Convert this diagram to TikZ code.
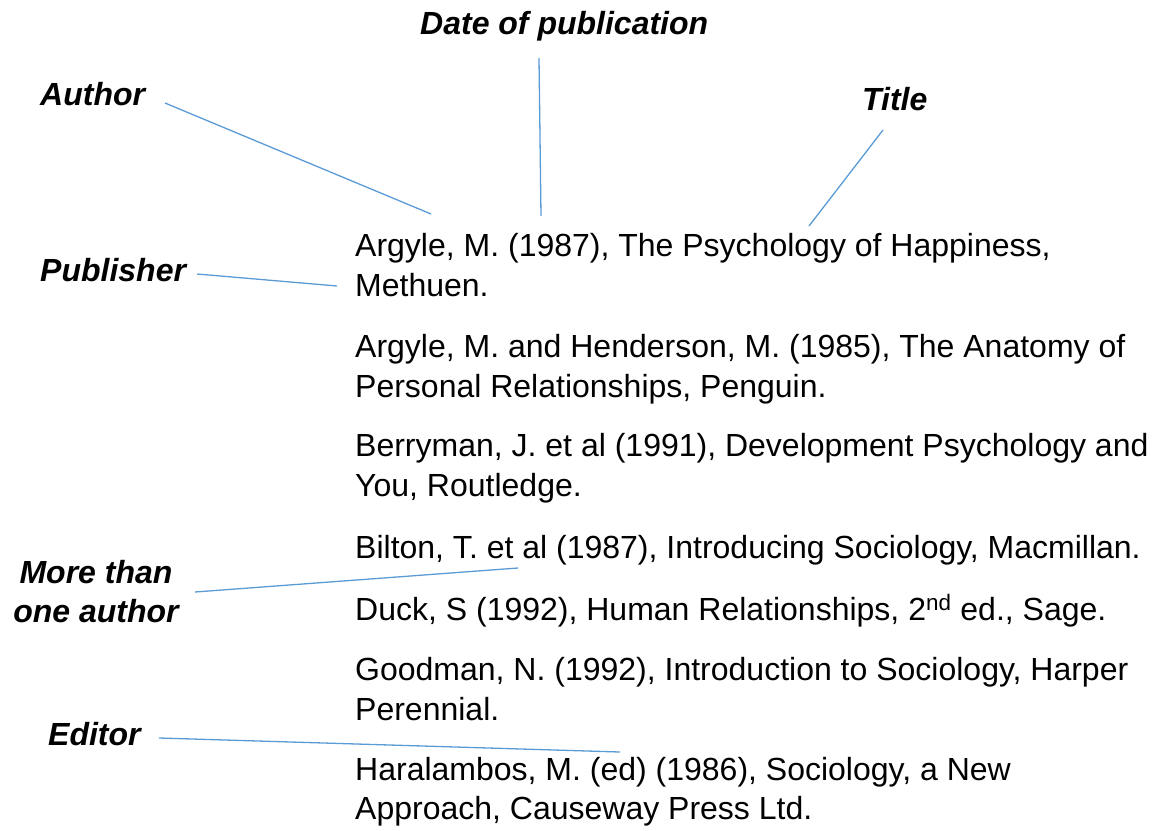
\documentclass[tikz,border=0pt]{standalone}
\usepackage{fontspec}
\setmainfont{Liberation Sans}
\definecolor{connblue}{HTML}{5B9BD5}
\tikzset{
  lbl/.style={inner sep=0pt, anchor=base west, font=\fontsize{32pt}{39pt}\selectfont\bfseries\itshape},
  lblc/.style={inner sep=0pt, anchor=base, font=\fontsize{32pt}{39pt}\selectfont\bfseries\itshape},
  body/.style={inner sep=0pt, anchor=base west, font=\fontsize{32pt}{40pt}\selectfont},
  conn/.style={draw=connblue, line width=1.3pt}
}
\begin{document}
\begin{tikzpicture}[x=1pt,y=-1pt]
\useasboundingbox (0,0) rectangle (1156,830);
% labels
\node[lbl] (date) at (420,34) {Date of publication};
\node[lbl] (author) at (40,105) {Author};
\node[lbl] (title) at (862,110) {Title};
\node[lbl] (publisher) at (40,281) {Publisher};
\node[lblc] (mta1) at (96,583) {More than};
\node[lblc] (mta2) at (96,622) {one author};
\node[lbl] (editor) at (48,745) {Editor};
% body text
\node[body] (e1a) at (355,256) {Argyle, M. (1987), The Psychology of Happiness,};
\node[body] (e1b) at (355,296) {Methuen.};
\node[body] (e2a) at (355,357) {Argyle, M. and Henderson, M. (1985), The Anatomy of};
\node[body] (e2b) at (355,397) {Personal Relationships, Penguin.};
\node[body] (e3a) at (355,456) {Berryman, J. et al (1991), Development Psychology and};
\node[body] (e3b) at (355,496) {You, Routledge.};
\node[body] (e4a) at (355,558) {Bilton, T. et al (1987), Introducing Sociology, Macmillan.};
\node[body] (e5a) at (355,620) {Duck, S (1992), Human Relationships, 2\textsuperscript{nd} ed., Sage.};
\node[body] (e6a) at (355,680) {Goodman, N. (1992), Introduction to Sociology, Harper};
\node[body] (e6b) at (355,720) {Perennial.};
\node[body] (e7a) at (355,780) {Haralambos, M. (ed) (1986), Sociology, a New};
\node[body] (e7b) at (355,819) {Approach, Causeway Press Ltd.};
% connector ends
\coordinate (authorS) at (165,103);
\coordinate (authorE) at (431,214);
\coordinate (dateS) at (539,58);
\coordinate (dateE) at (541,216);
\coordinate (titleS) at (883,130);
\coordinate (titleE) at (809,226);
\coordinate (pubS) at (197,274);
\coordinate (pubE) at (337,286);
\coordinate (mtaS) at (195,592);
\coordinate (mtaE) at (518,568);
\coordinate (edS) at (159,738);
\coordinate (edE) at (620,752);
% connectors
\draw[conn] (authorS) -- (authorE);
\draw[conn] (dateS) -- (dateE);
\draw[conn] (titleS) -- (titleE);
\draw[conn] (pubS) -- (pubE);
\draw[conn] (mtaS) -- (mtaE);
\draw[conn] (edS) -- (edE);
\end{tikzpicture}
\end{document}
